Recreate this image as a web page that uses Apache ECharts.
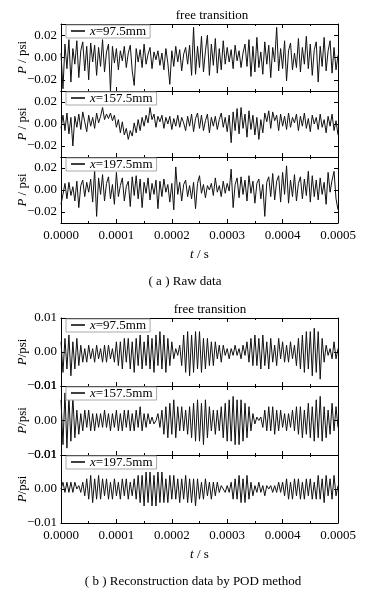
<!DOCTYPE html>
<html>
<head>
<meta charset="utf-8">
<script src="https://cdn.jsdelivr.net/npm/echarts@6/dist/echarts.min.js"></script>
<style>
html, body { margin: 0; padding: 0; background: #fff; }
#chart { width: 376px; height: 595px; }
</style>
</head>
<body>
<div id="chart"></div>
<script>
"use strict";

var positions = ["x=97.5mm", "x=157.5mm", "x=197.5mm"];
var xTicks = [0, 0.0001, 0.0002, 0.0003, 0.0004, 0.0005];
var rawTicks = [-0.02, 0, 0.02];
var podTicks = [-0.01, 0, 0.01];

// (a) raw pressure signals, psi
var raw975 = [
    0.004, -0.028, 0.012, -0.010, 0.016, -0.022, 0.008, -0.006, 0.015, -0.018,
    0.006, 0.014, -0.012, 0.010, -0.020, 0.013, -0.004, 0.011, -0.016, 0.009,
    -0.008, 0.016, -0.013, 0.005, 0.012, -0.030, 0.010, -0.005, 0.008, -0.011,
    0.006, -0.003, 0.010, -0.009, 0.004, 0.011, -0.012, -0.025, 0.008, -0.004,
    0.007, -0.009, 0.012, -0.006, 0.003, 0.009, -0.010, 0.005, -0.002, 0.006,
    -0.007, 0.004, -0.011, 0.008, -0.005, -0.024, 0.006, -0.008, 0.010, -0.004,
    0.007, -0.012, 0.003, 0.009, -0.006, 0.011, -0.016, 0.027, -0.015, 0.010,
    -0.009, 0.019, -0.013, 0.006, 0.020, -0.016, 0.012, -0.007, 0.017, -0.014,
    0.008, -0.011, 0.015, -0.006, 0.009, -0.004, 0.007, -0.010, 0.011, -0.003,
    0.006, -0.009, 0.004, 0.012, -0.008, 0.016, -0.017, 0.010, -0.013, 0.018,
    -0.009, 0.005, -0.015, 0.014, -0.006, 0.011, -0.018, 0.009, -0.004, 0.027,
    -0.012, 0.008, -0.010, 0.015, -0.021, 0.006, 0.013, -0.011, 0.004, -0.009,
    0.017, -0.013, 0.009, -0.006, 0.019, -0.010, 0.012, -0.016, 0.007, 0.014,
    -0.022, 0.010, -0.008, 0.018, -0.012, 0.006, 0.015, -0.014, 0.009, -0.011,
    0.002
];
var raw1575 = [
    -0.004, 0.008, -0.006, 0.010, -0.009, 0.006, -0.020, 0.007, -0.003, 0.009,
    -0.005, 0.011, 0.002, -0.007, 0.008, -0.002, 0.006, -0.004, 0.010, 0.001,
    0.007, 0.015, 0.004, 0.009, 0.005, 0.010, 0.003, 0.008, -0.003, 0.004,
    -0.008, 0.002, -0.010, -0.004, -0.014, -0.006, -0.011, 0.001, -0.008, 0.004,
    -0.006, 0.006, -0.002, 0.008, 0.001, 0.015, 0.004, 0.009, -0.003, 0.007,
    0.002, 0.008, -0.004, 0.006, 0.000, 0.007, -0.005, 0.005, -0.002, 0.008,
    -0.003, 0.006, 0.001, -0.006, 0.007, -0.002, 0.009, -0.007, 0.005, 0.010,
    -0.004, 0.008, -0.006, 0.003, 0.009, -0.008, 0.006, -0.002, 0.007, -0.005,
    0.004, 0.010, -0.003, 0.006, -0.007, 0.008, -0.017, 0.011, -0.006, 0.014,
    -0.009, 0.015, -0.004, 0.009, -0.012, 0.012, -0.005, 0.008, -0.010, 0.006,
    -0.014, 0.004, -0.008, 0.010, 0.002, 0.012, -0.004, 0.011, 0.003, 0.008,
    -0.006, 0.009, -0.002, 0.007, -0.005, 0.010, -0.003, 0.006, 0.001, 0.009,
    -0.006, 0.007, -0.002, 0.010, -0.004, 0.005, -0.007, 0.008, 0.000, 0.006,
    -0.005, 0.009, -0.003, 0.004, -0.008, 0.007, -0.002, 0.009, -0.006, 0.003,
    -0.010
];
var raw1975 = [
    -0.013, -0.004, 0.006, -0.008, 0.007, -0.005, 0.003, -0.010, 0.008, -0.016,
    0.004, 0.009, -0.006, 0.007, -0.002, 0.010, -0.011, 0.018, -0.024, 0.011,
    -0.004, 0.014, -0.010, 0.006, 0.012, -0.008, 0.005, -0.013, 0.016, -0.006,
    0.004, 0.011, -0.010, 0.003, 0.008, -0.015, 0.012, -0.005, 0.013, -0.008,
    0.010, -0.016, 0.007, -0.003, 0.011, -0.009, 0.006, -0.004, 0.009, -0.017,
    0.008, -0.006, 0.010, -0.002, 0.005, -0.011, 0.006, -0.018, 0.021, -0.004,
    0.007, -0.010, 0.005, 0.009, -0.006, 0.004, -0.008, 0.007, -0.017, 0.006,
    0.013, -0.003, 0.005, -0.007, 0.004, 0.000, 0.006, -0.005, 0.011, -0.002,
    0.004, -0.006, 0.008, -0.003, 0.006, -0.001, 0.019, -0.016, 0.005, 0.011,
    -0.007, 0.012, -0.004, 0.009, -0.010, 0.013, -0.003, 0.008, -0.012, 0.006,
    0.010, -0.008, 0.005, -0.024, 0.007, 0.012, -0.006, 0.015, -0.009, 0.008,
    0.013, -0.011, 0.016, -0.004, 0.022, -0.012, 0.009, -0.006, 0.014, -0.010,
    0.006, 0.012, -0.008, 0.010, -0.005, 0.017, -0.011, 0.013, -0.006, 0.009,
    -0.009, 0.011, -0.004, 0.007, -0.013, 0.016, -0.002, 0.009, 0.017, -0.008,
    -0.018
];

// (b) POD reconstruction, psi
var pod975 = [
    0.003, -0.006, 0.004, -0.005, 0.005, -0.007, 0.003, -0.005, 0.004, -0.004,
    0.002, -0.003, 0.001, -0.003, 0.002, -0.002, 0.001, -0.003, 0.002, -0.002,
    0.001, -0.003, 0.002, -0.003, 0.002, -0.002, 0.001, -0.003, 0.003, -0.004,
    0.003, -0.005, 0.004, -0.003, 0.004, -0.005, 0.003, -0.006, 0.004, -0.004,
    0.005, -0.005, 0.003, -0.004, 0.005, -0.005, 0.004, -0.006, 0.005, -0.004,
    0.006, -0.005, 0.005, -0.006, 0.004, -0.004, 0.003, -0.002, 0.001, -0.001,
    0.002, -0.004, 0.005, -0.006, 0.006, -0.007, 0.005, -0.006, 0.006, -0.005,
    0.006, -0.006, 0.004, -0.005, 0.004, -0.004, 0.003, -0.004, 0.003, -0.002,
    0.002, -0.003, 0.002, -0.001, 0.001, -0.002, 0.001, -0.001, 0.002, -0.001,
    0.001, -0.002, 0.002, -0.001, 0.003, -0.003, 0.004, -0.004, 0.005, -0.004,
    0.004, -0.005, 0.005, -0.004, 0.003, -0.005, 0.004, -0.003, 0.002, -0.004,
    0.004, -0.002, 0.003, -0.003, 0.002, -0.003, 0.003, -0.002, 0.002, -0.004,
    0.004, -0.005, 0.005, -0.006, 0.006, -0.005, 0.006, -0.007, 0.007, -0.006,
    0.006, -0.008, 0.004, -0.003, 0.002, -0.001, 0.001, -0.002, 0.003, -0.002,
    0.001
];
var pod1575 = [
    0.006, -0.007, 0.008, -0.008, 0.007, -0.006, 0.007, -0.005, 0.003, -0.004,
    0.002, -0.003, 0.003, -0.002, 0.003, -0.003, 0.002, -0.003, 0.002, -0.002,
    0.002, -0.002, 0.003, -0.002, 0.002, -0.003, 0.002, -0.002, 0.003, -0.003,
    0.002, -0.003, 0.003, -0.002, 0.003, -0.003, 0.002, -0.003, 0.003, -0.002,
    0.004, -0.003, 0.002, -0.002, 0.002, -0.001, 0.001, -0.001, 0.000, 0.002,
    -0.002, 0.003, -0.004, 0.004, -0.005, 0.005, -0.004, 0.006, -0.005, 0.004,
    -0.003, 0.004, -0.003, 0.003, -0.004, 0.004, -0.005, 0.005, -0.006, 0.006,
    -0.006, 0.005, -0.007, 0.006, -0.005, 0.004, -0.003, 0.003, -0.004, 0.003,
    -0.003, 0.004, -0.005, 0.005, -0.006, 0.006, -0.006, 0.007, -0.007, 0.006,
    -0.007, 0.006, -0.006, 0.005, -0.005, 0.004, -0.003, 0.002, -0.001, 0.001,
    0.000, 0.001, -0.002, 0.003, -0.003, 0.004, -0.003, 0.004, -0.004, 0.003,
    -0.003, 0.003, -0.002, 0.002, -0.003, 0.002, -0.002, 0.003, -0.003, 0.004,
    -0.004, 0.004, -0.005, 0.003, -0.004, 0.005, -0.005, 0.004, -0.006, 0.006,
    -0.005, 0.007, -0.006, 0.004, -0.005, 0.003, -0.004, 0.005, -0.003, 0.004,
    -0.002
];
var pod1975 = [
    0.000, 0.002, -0.001, 0.002, -0.001, 0.002, -0.001, 0.002, 0.000, 0.001,
    -0.001, 0.002, -0.002, 0.003, -0.003, 0.004, -0.004, 0.003, -0.003, 0.004,
    -0.003, 0.003, -0.002, 0.003, -0.003, 0.002, -0.003, 0.003, -0.002, 0.002,
    -0.003, 0.003, -0.002, 0.003, -0.003, 0.002, -0.002, 0.003, -0.003, 0.004,
    -0.004, 0.004, -0.005, 0.005, -0.004, 0.005, -0.005, 0.004, -0.005, 0.005,
    -0.004, 0.005, -0.004, 0.003, -0.004, 0.004, -0.003, 0.004, -0.003, 0.003,
    -0.004, 0.003, -0.003, 0.004, -0.004, 0.003, -0.004, 0.003, -0.005, 0.003,
    -0.003, 0.002, -0.003, 0.003, -0.002, 0.002, -0.003, 0.002, -0.002, 0.002,
    -0.001, 0.001, 0.000, -0.001, 0.001, -0.001, 0.002, -0.003, 0.003, -0.003,
    0.004, -0.004, 0.003, -0.004, 0.004, -0.003, 0.002, -0.002, 0.001, -0.001,
    0.002, -0.001, 0.001, -0.002, 0.001, 0.000, 0.001, -0.001, 0.001, -0.001,
    0.002, -0.001, 0.002, -0.002, 0.003, -0.003, 0.002, -0.003, 0.003, -0.002,
    0.003, -0.003, 0.002, -0.003, 0.003, -0.002, 0.003, -0.003, 0.002, -0.003,
    0.004, -0.003, 0.003, -0.004, 0.004, -0.002, 0.003, -0.003, 0.004, -0.002,
    0.001
];

// sampling instants: evenly spaced over 0 .. 0.0005 s
var time = raw975.map(function (v, i) {
    return i * xTicks[xTicks.length - 1] / (raw975.length - 1);
});

var font = '"Liberation Serif", "Times New Roman", serif';
var ink = "#000";

function fmtY(v) {
    var d = Math.abs(v) < 0.0095 ? 0 : Math.abs(v);
    return (v < -1e-9 ? "\u2212" : "") + d.toFixed(2);
}

var option = {
    animation: false,
    grid: [],
    xAxis: [],
    yAxis: [],
    legend: [],
    series: [],
    graphic: [
        { type: "text", x: 212, y: 16, style: { text: "free transition", fill: ink, font: "13px " + font, align: "center", verticalAlign: "middle" } },
        { type: "text", x: 185, y: 282, style: { text: "( a ) Raw data", fill: ink, font: "13px " + font, align: "center", verticalAlign: "middle" } },
        { type: "text", x: 210, y: 310, style: { text: "free transition", fill: ink, font: "13px " + font, align: "center", verticalAlign: "middle" } },
        { type: "text", x: 193, y: 582, style: { text: "( b ) Reconstruction data by POD method", fill: ink, font: "13px " + font, align: "center", verticalAlign: "middle" } }
    ]
};

function addPanel(k, top, height, values, name, ticks, yName, last) {
    var lim = ticks[2] === 0.02 ? 0.03 : 0.01;
    option.grid.push({ left: 61, width: 277, top: top, height: height });

    var xBase = {
        gridIndex: k, type: "value", min: xTicks[0], max: xTicks[xTicks.length - 1], interval: 0.0001,
        axisLine: { onZero: false, lineStyle: { color: ink, width: 1 } },
        axisTick: { inside: true, length: 4, lineStyle: { color: ink } },
        minorTick: { show: true, splitNumber: 2, length: 2, lineStyle: { color: ink } },
        splitLine: { show: false }
    };
    option.xAxis.push(Object.assign({}, xBase, {
        position: "bottom",
        axisLabel: {
            show: last, margin: 6, color: ink, fontFamily: font, fontSize: 13,
            formatter: function (v) { return v.toFixed(4); }
        },
        name: last ? "{i|t} / s" : "",
        nameLocation: "middle", nameGap: 25, nameMoveOverlap: false,
        nameTextStyle: { color: ink, fontFamily: font, fontSize: 13, rich: { i: { fontStyle: "italic", fontFamily: font, fontSize: 13 } } }
    }));
    option.xAxis.push(Object.assign({}, xBase, { position: "top", axisLabel: { show: false } }));

    var yBase = {
        gridIndex: k, type: "value", min: -lim, max: lim,
        axisLine: { onZero: false, lineStyle: { color: ink, width: 1 } },
        splitLine: { show: false }
    };
    option.yAxis.push(Object.assign({}, yBase, {
        position: "left",
        axisTick: { inside: true, length: 4, lineStyle: { color: ink }, customValues: ticks },
        axisLabel: { margin: 4, color: ink, fontFamily: font, fontSize: 13, customValues: ticks, formatter: fmtY },
        name: yName, nameLocation: "middle", nameRotate: 90, nameGap: 32, nameMoveOverlap: false,
        nameTextStyle: { color: ink, fontFamily: font, fontSize: 13, rich: { i: { fontStyle: "italic", fontFamily: font, fontSize: 13 } } }
    }));
    option.yAxis.push(Object.assign({}, yBase, {
        position: "right",
        axisTick: { inside: true, length: 4, lineStyle: { color: ink }, customValues: ticks },
        axisLabel: { show: false }
    }));

    option.legend.push({
        data: [name], left: 66, top: top + 1,
        backgroundColor: "#fff", borderColor: "#aaa", borderWidth: 1, borderRadius: 0,
        padding: [0, 4, 0, 5], icon: "rect", itemWidth: 14, itemHeight: 1.5, itemGap: 4,
        formatter: function (n) { return "{i|x}" + n.slice(1); },
        textStyle: { color: ink, fontFamily: font, fontSize: 13, padding: [1, 0, 0, 0], rich: { i: { fontStyle: "italic", fontFamily: font, fontSize: 13 } } }
    });

    option.series.push({
        name: name, type: "line", xAxisIndex: 2 * k, yAxisIndex: 2 * k,
        symbol: "none", lineStyle: { color: "#111", width: 1 }, itemStyle: { color: "#000" },
        data: time.map(function (t, i) { return [t, values[i]]; })
    });
}

addPanel(0, 24, 67, raw975, positions[0], rawTicks, "{i|P} / psi", false);
addPanel(1, 91, 66, raw1575, positions[1], rawTicks, "{i|P} / psi", false);
addPanel(2, 157, 66, raw1975, positions[2], rawTicks, "{i|P} / psi", true);
addPanel(3, 318, 68, pod975, positions[0], podTicks, "{i|P}/psi", false);
addPanel(4, 386, 69, pod1575, positions[1], podTicks, "{i|P}/psi", false);
addPanel(5, 455, 68, pod1975, positions[2], podTicks, "{i|P}/psi", true);

echarts.init(document.getElementById("chart")).setOption(option);
</script>
</body>
</html>
